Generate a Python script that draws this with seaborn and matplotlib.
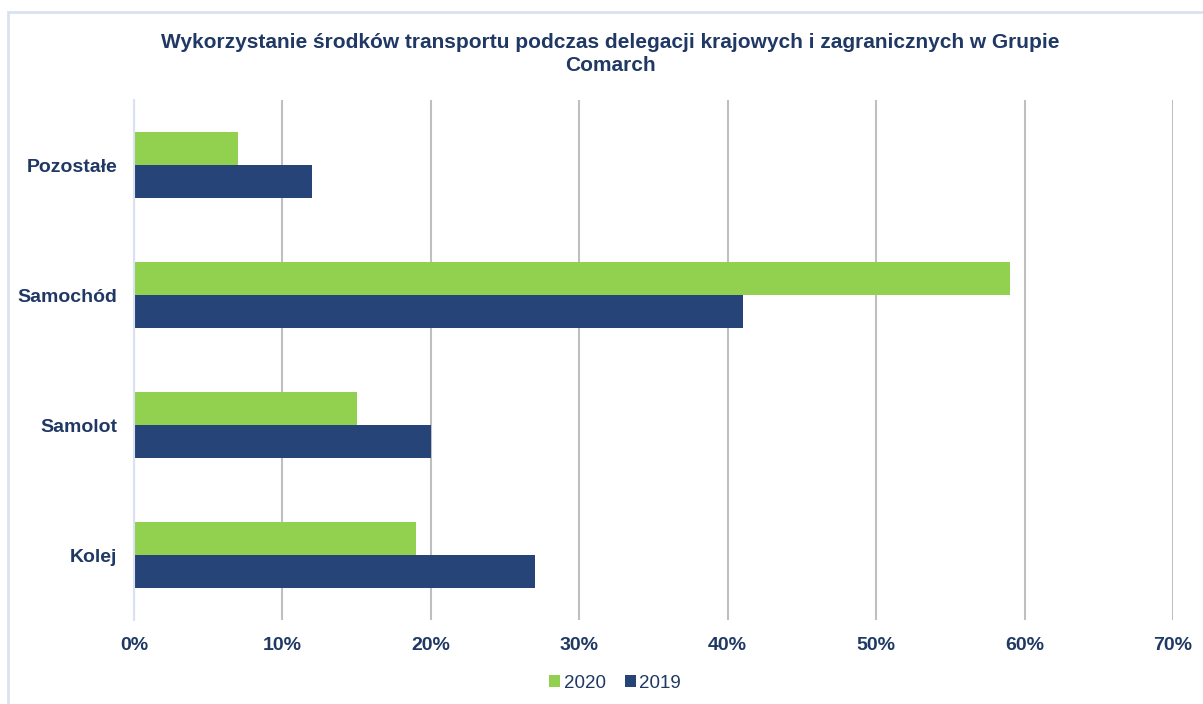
import matplotlib
matplotlib.use("Agg")
import matplotlib.pyplot as plt
import seaborn as sns
import pandas as pd
from matplotlib.patches import Rectangle
from matplotlib.ticker import FuncFormatter

categories = ["Pozostałe", "Samochód", "Samolot", "Kolej"]
years = ["2020", "2019"]
values_2020 = [7, 59, 15, 19]
values_2019 = [12, 41, 20, 27]
x_ticks = [0, 10, 20, 30, 40, 50, 60, 70]
title = "Wykorzystanie środków transportu podczas delegacji krajowych i zagranicznych w Grupie\nComarch"

df = pd.DataFrame({
    "Kategoria": categories * 2,
    "Rok": [years[0]] * 4 + [years[1]] * 4,
    "Wartość": values_2020 + values_2019,
})

sns.set_theme(style="white")
plt.rcParams["font.family"] = ["Liberation Sans", "DejaVu Sans"]

text_color = "#1F3864"
green = "#92D050"
navy = "#264478"

fig = plt.figure(figsize=(12.03, 7.04), dpi=100)
ax = fig.add_axes([134 / 1203, 1 - 620 / 704, (1173 - 134) / 1203, 520 / 704])

sns.barplot(data=df, y="Kategoria", x="Wartość", hue="Rok", hue_order=years,
            order=categories, palette=[green, navy], orient="h", width=0.51,
            ax=ax, saturation=1, legend=True, linewidth=0)

ax.set_xlim(0, 70)
ax.set_ylim(3.5, -0.5)
ax.set_xticks(x_ticks)
ax.xaxis.set_major_formatter(FuncFormatter(lambda v, p: f"{int(v)}%"))
ax.grid(axis="x", color="#BFBFBF", linewidth=1.5)
ax.set_axisbelow(True)
for s in ["top", "right", "bottom"]:
    ax.spines[s].set_visible(False)
ax.spines["left"].set_color("#D9E1F2")
ax.spines["left"].set_linewidth(1.5)
ax.set_xlabel("")
ax.set_ylabel("")
ax.tick_params(axis="both", length=0, labelcolor=text_color, labelsize=14)
ax.tick_params(axis="x", pad=12)
ax.tick_params(axis="y", pad=12)
for lbl in ax.get_xticklabels() + ax.get_yticklabels():
    lbl.set_fontweight("bold")

leg = ax.legend(loc="center", bbox_to_anchor=((615 - 134) / 1039, -(683 - 620) / 520), ncol=2,
                frameon=False, fontsize=13.5, handlelength=0.6, handleheight=0.6,
                handletextpad=0.2, columnspacing=1.0)
for t in leg.get_texts():
    t.set_color(text_color)

fig.text(610 / 1203, 1 - 54 / 704, title, ha="center", va="center", fontsize=15,
         fontweight="bold", color=text_color, linespacing=1.3)

fig.patches.append(Rectangle((8 / 1203, -0.05), 1.1, 1 - 12 / 704 + 0.05,
                             transform=fig.transFigure, fill=False,
                             edgecolor="#D9E1F2", linewidth=2, zorder=0))

fig.savefig("out.png", dpi=100)
